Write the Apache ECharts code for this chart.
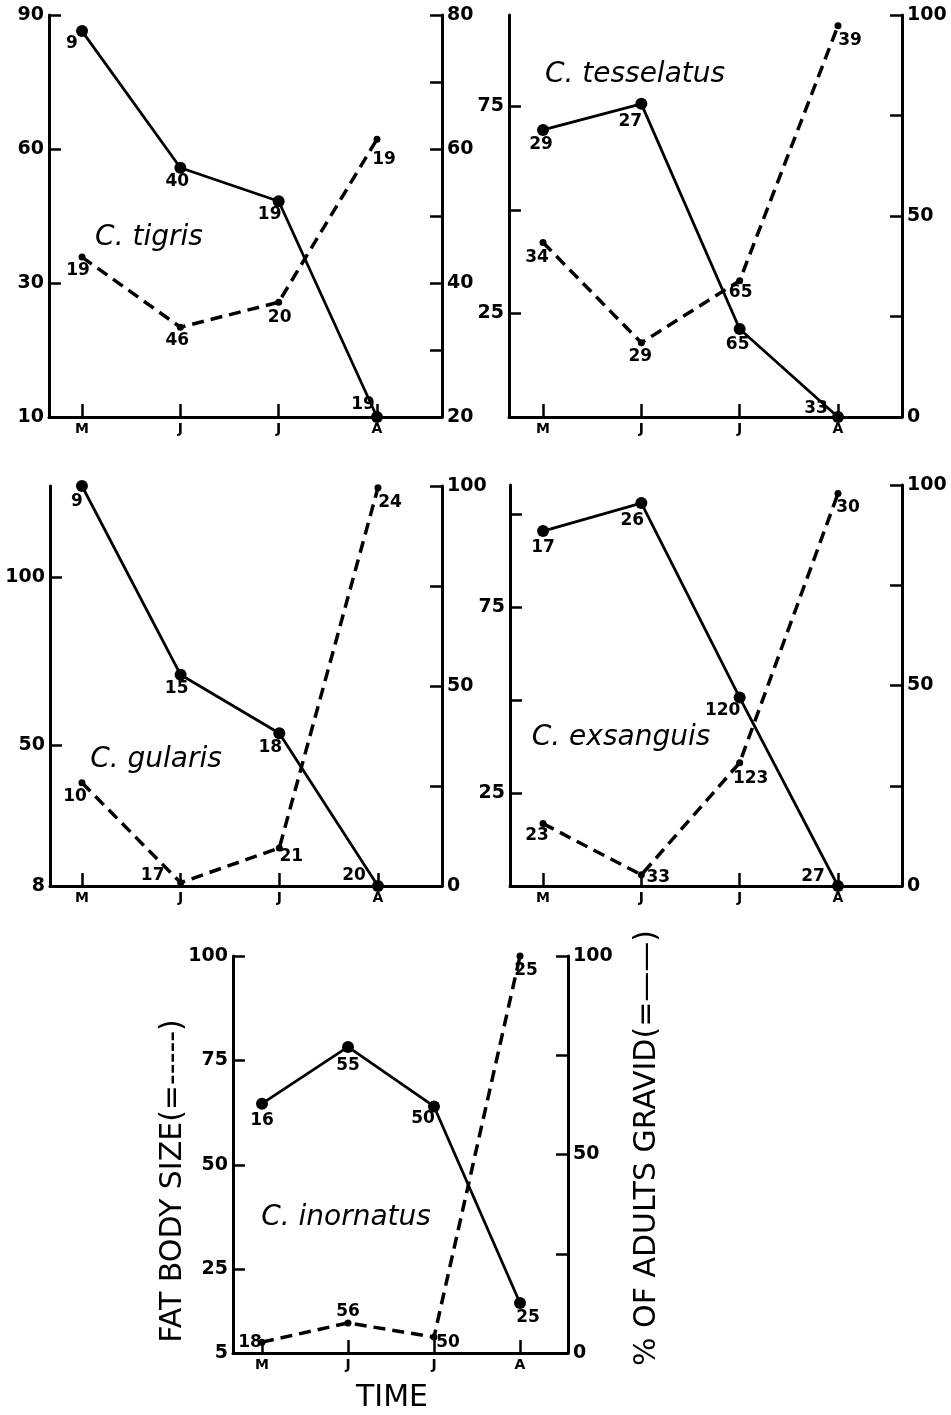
<!DOCTYPE html>
<html>
<head>
<meta charset="utf-8">
<script src="https://cdn.jsdelivr.net/npm/echarts@6/dist/echarts.min.js"></script>
<style>
  html, body { margin: 0; padding: 0; background: #fff; }
  #chart { width: 951px; height: 1415px; }
</style>
</head>
<body>
<div id="chart"></div>
<script>
// months on the x axis
const months = ["M", "J", "J", "A"];
const monthIndex = [1, 2, 3, 4];
const species = ["C. tigris", "C. tesselatus", "C. gularis", "C. exsanguis", "C. inornatus"];

// % of adults gravid (solid, right axis) and fat body size (dashed, left axis)
const gravidTigris = [77.6, 57.2, 52.2, 20];
const fatTigris = [35.8, 20.1, 25.7, 62.2];
const nGravidTigris = [9, 40, 19, 19];
const nFatTigris = [19, 46, 20, 19];

const gravidTesselatus = [71.4, 77.9, 21.9, 0];
const fatTesselatus = [42.1, 17.9, 32.9, 94.4];
const nGravidTesselatus = [29, 27, 65, 33];
const nFatTesselatus = [34, 29, 65, 39];

const gravidGularis = [100, 52.8, 38.2, 0];
const fatGularis = [38.7, 9, 19.3, 126.5];
const nGravidGularis = [9, 15, 18, 20];
const nFatGularis = [10, 17, 21, 24];

const gravidExsanguis = [88.5, 95.5, 47, 0];
const fatExsanguis = [16.8, 3, 33.2, 105.7];
const nGravidExsanguis = [17, 26, 120, 27];
const nFatExsanguis = [23, 33, 123, 30];

const gravidInornatus = [62.8, 77.1, 62.1, 12.6];
const fatInornatus = [7.6, 12.2, 8.8, 100];
const nGravidInornatus = [16, 55, 50, 25];
const nFatInornatus = [18, 56, 50, 25];

// tick / label values
const tigrisLeftLabels = [0, 30, 60, 90];
const tigrisRightLabels = [20, 40, 60, 80];
const pctLabels = [0, 50, 100];

const FONT = "DejaVu Sans";

const panels = [
  {
    grid: { left: 49, top: 15, width: 393, height: 402 }, x: [0.664, 4.661],
    left: { min: 0, max: 90, ticks: [30, 60, 90], labels: tigrisLeftLabels, fmt: (v) => (v === 0 ? "10" : String(v)) },
    right: { min: 20, max: 80, ticks: [30, 40, 50, 60, 70, 80], labels: tigrisRightLabels },
    gravid: gravidTigris, fat: fatTigris, nG: nGravidTigris, nF: nFatTigris,
    offG: [[-10, 12], [-3, 14], [-9, 13], [-14, -12]],
    offF: [[-4, 13], [-3, 13], [1, 15], [7, 20]],
    name: [149, 238],
  },
  {
    grid: { left: 509, top: 15, width: 393, height: 402 }, x: [0.654, 4.651],
    left: { min: 0, max: 97, ticks: [25, 50, 75], labels: [25, 75] },
    right: { min: 0, max: 100, ticks: [25, 50, 75, 100], labels: pctLabels },
    gravid: gravidTesselatus, fat: fatTesselatus, nG: nGravidTesselatus, nF: nFatTesselatus,
    offG: [[-2, 15], [-11, 18], [-2, 16], [-22, -8]],
    offF: [[-6, 15], [-1, 14], [1, 12], [12, 15]],
    name: [635, 75],
  },
  {
    grid: { left: 50, top: 486, width: 392, height: 400 }, x: [0.676, 4.649],
    left: { min: 8, max: 127, ticks: [50, 100], labels: [8, 50, 100] },
    right: { min: 0, max: 100, ticks: [25, 50, 75, 100], labels: pctLabels },
    gravid: gravidGularis, fat: fatGularis, nG: nGravidGularis, nF: nFatGularis,
    offG: [[-5, 16], [-4, 14], [-9, 14], [-24, -10]],
    offF: [[-7, 14], [-28, -7], [12, 9], [12, 15]],
    name: [156, 760],
  },
  {
    grid: { left: 510, top: 485, width: 392, height: 401 }, x: [0.664, 4.651],
    left: { min: 0, max: 108, ticks: [25, 50, 75, 100], labels: [25, 75] },
    right: { min: 0, max: 100, ticks: [25, 50, 75, 100], labels: pctLabels },
    gravid: gravidExsanguis, fat: fatExsanguis, nG: nGravidExsanguis, nF: nFatExsanguis,
    offG: [[0, 16], [-9, 18], [-17, 13], [-25, -9]],
    offF: [[-6, 12], [17, 3], [11, 16], [10, 14]],
    name: [621, 738],
  },
  {
    grid: { left: 233, top: 956, width: 335, height: 397 }, x: [0.663, 4.558],
    left: { min: 5, max: 100, ticks: [25, 50, 75, 100], labels: [5, 25, 50, 75, 100] },
    right: { min: 0, max: 100, ticks: [25, 50, 75, 100], labels: pctLabels },
    gravid: gravidInornatus, fat: fatInornatus, nG: nGravidInornatus, nF: nFatInornatus,
    offG: [[0, 17], [0, 19], [-11, 12], [8, 15]],
    offF: [[-12, 0], [0, -11], [14, 5], [6, 15]],
    name: [346, 1218],
  },
];

const axisLine = { show: true, onZero: false, lineStyle: { color: "#000", width: 3 } };
const tickStyle = { color: "#000", width: 2.5 };
const labelFont = { color: "#000", fontFamily: FONT, fontWeight: "bold", fontSize: 19 };

function yAxisFor(i, spec, position) {
  return {
    type: "value",
    gridIndex: i,
    position: position,
    min: spec.min,
    max: spec.max,
    axisLine: axisLine,
    splitLine: { show: false },
    axisTick: { show: true, inside: true, length: 12, customValues: spec.ticks, lineStyle: tickStyle },
    axisLabel: Object.assign({ customValues: spec.labels, margin: 5, formatter: spec.fmt || ((v) => String(v)) }, labelFont),
  };
}

const grid = [], xAxis = [], yAxis = [], series = [], graphic = [];

panels.forEach((p, i) => {
  grid.push(p.grid);
  xAxis.push({
    type: "value",
    gridIndex: i,
    min: p.x[0],
    max: p.x[1],
    axisLine: axisLine,
    splitLine: { show: false },
    axisTick: { show: true, inside: true, length: 13, customValues: monthIndex, lineStyle: tickStyle },
    axisLabel: {
      customValues: monthIndex,
      formatter: (v) => months[v - 1],
      color: "#000", fontFamily: FONT, fontWeight: "bold", fontSize: 14, margin: 5,
    },
  });
  yAxis.push(yAxisFor(i, p.left, "left"));
  yAxis.push(yAxisFor(i, p.right, "right"));

  const pointLabel = { show: true, position: "inside", color: "#000", fontFamily: FONT, fontWeight: "bold", fontSize: 17 };

  // dashed: fat body size, left axis
  series.push({
    type: "line",
    xAxisIndex: i,
    yAxisIndex: i * 2,
    data: p.fat.map((v, k) => ({ value: [monthIndex[k], v], label: { offset: p.offF[k] } })),
    symbol: "circle",
    symbolSize: 7,
    itemStyle: { color: "#000" },
    lineStyle: { color: "#000", width: 3.5, type: [12, 7] },
    label: Object.assign({ formatter: (d) => p.nF[d.dataIndex] }, pointLabel),
    clip: false,
    z: 3,
  });
  // solid: % of adults gravid, right axis
  series.push({
    type: "line",
    xAxisIndex: i,
    yAxisIndex: i * 2 + 1,
    data: p.gravid.map((v, k) => ({ value: [monthIndex[k], v], label: { offset: p.offG[k] } })),
    symbol: "circle",
    symbolSize: 12,
    itemStyle: { color: "#000" },
    lineStyle: { color: "#000", width: 2.8 },
    label: Object.assign({ formatter: (d) => p.nG[d.dataIndex] }, pointLabel),
    clip: false,
    z: 4,
  });

  graphic.push({
    type: "text",
    x: p.name[0],
    y: p.name[1],
    style: {
      text: species[i], fill: "#000", fontFamily: FONT, fontStyle: "italic", fontSize: 28,
      align: "center", verticalAlign: "middle",
    },
  });
});

// axis titles of the bottom panel
graphic.push({
  type: "text", x: 173, y: 1181, rotation: Math.PI / 2,
  style: { text: "FAT BODY SIZE(=-----)", fill: "#000", fontFamily: FONT, fontSize: 30, align: "center", verticalAlign: "middle" },
});
graphic.push({
  type: "text", x: 647, y: 1148, rotation: Math.PI / 2,
  style: { text: "% OF ADULTS GRAVID(=——)", fill: "#000", fontFamily: FONT, fontSize: 30, align: "center", verticalAlign: "middle" },
});
graphic.push({
  type: "text", x: 392, y: 1398,
  style: { text: "TIME", fill: "#000", fontFamily: FONT, fontSize: 30, align: "center", verticalAlign: "middle" },
});

const myChart = echarts.init(document.getElementById("chart"));
myChart.setOption({
  animation: false,
  backgroundColor: "#fff",
  grid: grid,
  xAxis: xAxis,
  yAxis: yAxis,
  series: series,
  graphic: graphic,
});
</script>
</body>
</html>
